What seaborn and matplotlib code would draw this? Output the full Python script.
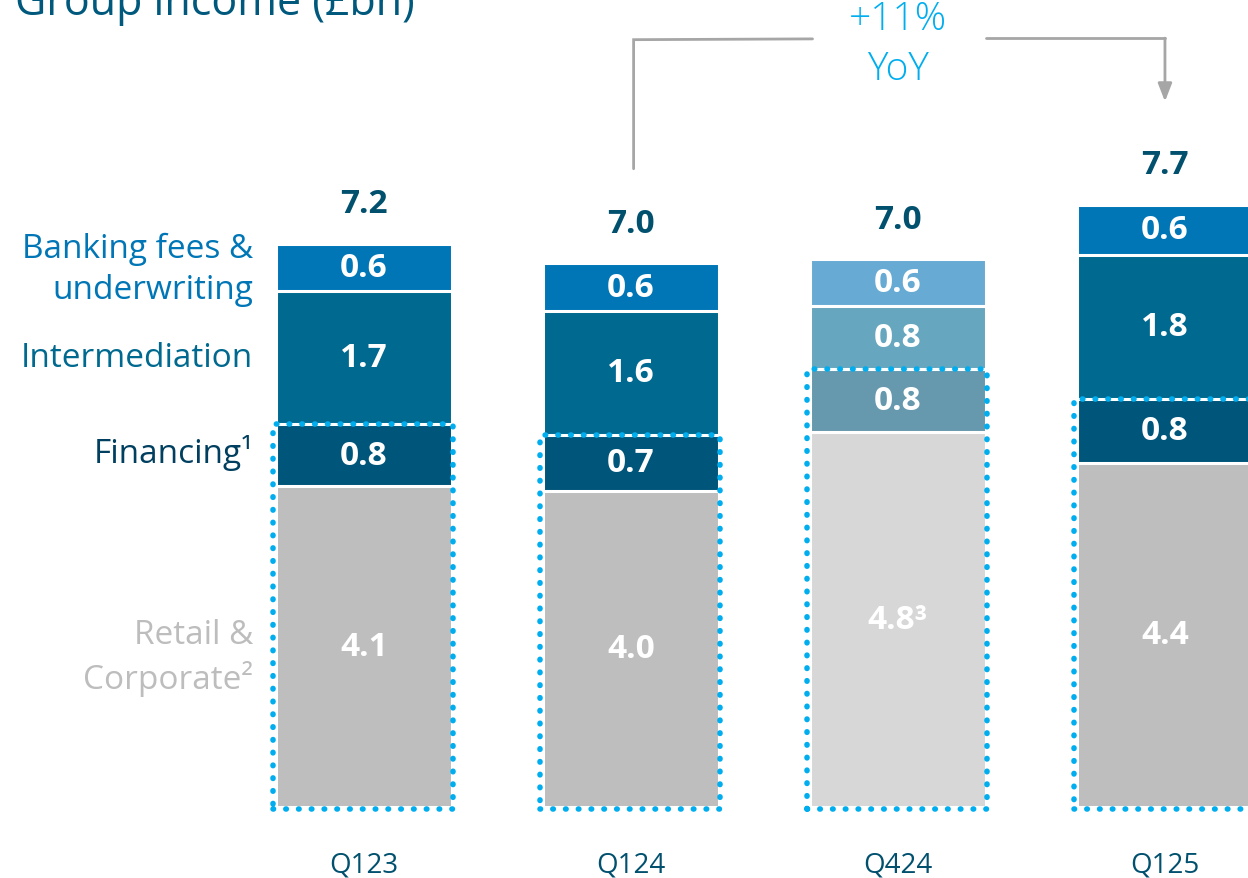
import matplotlib
matplotlib.use("Agg")
import matplotlib.pyplot as plt
import numpy as np
import pandas as pd
import seaborn as sns
from matplotlib.patches import Rectangle

# data (GBP bn)
quarters = ["Q123", "Q124", "Q424", "Q125"]
segments = ["Retail & Corporate", "Financing", "Intermediation", "Banking fees & underwriting"]
retail = [4.1, 4.04, 4.8, 4.4]
financing = [0.8, 0.72, 0.8, 0.82]
intermediation = [1.7, 1.58, 0.8, 1.84]
banking = [0.6, 0.61, 0.6, 0.64]
retail_lbl = ["4.1", "4.0", "4.8³", "4.4"]
financing_lbl = ["0.8", "0.7", "0.8", "0.8"]
intermediation_lbl = ["1.7", "1.6", "0.8", "1.8"]
banking_lbl = ["0.6", "0.6", "0.6", "0.6"]
total_lbl = ["7.2", "7.0", "7.0", "7.7"]

# colours, Q424 is shown faded
colors = {
    "Retail & Corporate": ["#bebebe", "#bebebe", "#d7d7d7", "#bebebe"],
    "Financing": ["#00557a", "#00557a", "#6699ad", "#00557a"],
    "Intermediation": ["#00698f", "#00698f", "#67a6bf", "#00698f"],
    "Banking fees & underwriting": ["#0076b6", "#0076b6", "#67abd4", "#0076b6"],
}
label_colors = {
    "Retail & Corporate": "#bdbdbd",
    "Financing": "#003f5f",
    "Intermediation": "#00698f",
    "Banking fees & underwriting": "#0076b6",
}
dark = "#00506e"
cyan = "#00aeef"

sns.set_theme(style="white")
plt.rcParams["font.family"] = ["Open Sans", "DejaVu Sans"]

df = pd.DataFrame({"quarter": quarters, "Retail & Corporate": retail,
                   "Financing": financing, "Intermediation": intermediation,
                   "Banking fees & underwriting": banking})
cum = df[segments].cumsum(axis=1)
bottoms = cum.shift(1, axis=1).fillna(0)

fig = plt.figure(figsize=(12.48, 8.79), dpi=100)
ax = fig.add_axes([0, 0, 1, 1])
W = 0.66

# stacked bars: draw cumulative heights from the top layer down
for seg in reversed(segments):
    sns.barplot(x=df["quarter"], y=cum[seg], hue=df["quarter"], palette=colors[seg],
                legend=False, width=W, edgecolor="white", linewidth=2.2, ax=ax,
                saturation=1)

lbls = dict(zip(segments, [retail_lbl, financing_lbl, intermediation_lbl, banking_lbl]))
for i, q in enumerate(quarters):
    for seg in segments:
        mid = bottoms.loc[i, seg] + df.loc[i, seg] / 2
        ax.text(i, mid, lbls[seg][i], ha="center", va="center", color="white",
                fontsize=24, fontweight="bold")
    top = cum.loc[i, segments[-1]]
    ax.text(i, top + 0.51, total_lbl[i], ha="center", va="center", color=dark,
            fontsize=24, fontweight="bold")
    ax.text(i, -0.74, q, ha="center", va="center", color=dark, fontsize=20)
    # dotted box around financing + retail
    box_top = cum.loc[i, "Financing"]
    ax.add_patch(Rectangle((i - W / 2 - 0.012, -0.02), W + 0.015, box_top + 0.02, fill=False,
                           edgecolor=cyan, linewidth=4, linestyle=(0, (0.1, 2.2)),
                           capstyle="round", joinstyle="round", zorder=5))

# left-hand segment labels
left_x = -0.415
ax.text(left_x, 6.88, "Banking fees &\nunderwriting", ha="right", va="center",
        color=label_colors["Banking fees & underwriting"], fontsize=24, linespacing=1.3)
ax.text(left_x, 5.75, "Intermediation", ha="right", va="center",
        color=label_colors["Intermediation"], fontsize=24)
ax.text(left_x, 4.54, "Financing¹", ha="right", va="center",
        color=label_colors["Financing"], fontsize=24)
ax.text(left_x, 1.92, "Retail &\nCorporate²", ha="right", va="center",
        color=label_colors["Retail & Corporate"], fontsize=24, linespacing=1.3)

# YoY connector
grey = "#a6a6a6"
ax.plot([1.01, 1.01, 1.68], [8.16, 9.81, 9.82], color=grey, linewidth=2, solid_joinstyle="miter")
ax.annotate("", xy=(3.0, 9.02), xytext=(3.0, 9.83),
            arrowprops=dict(arrowstyle="-|>,head_width=0.35,head_length=0.9", color=grey,
                            linewidth=2, shrinkA=0, shrinkB=0))
ax.plot([2.33, 3.0], [9.83, 9.83], color=grey, linewidth=2)
ax.text(2.0, 10.08, "+11%", ha="center", va="center", color=cyan, fontsize=28, fontweight="light")
ax.text(2.0, 9.44, "YoY", ha="center", va="center", color=cyan, fontsize=28, fontweight="light")

fig.text(0.012, 1 - 15 / 879, "Group income (£bn)", ha="left", va="baseline",
         color="#00597c", fontsize=31)

ax.set_xlim(-1.363, 3.311)
ax.set_ylim(-0.908, 10.33)
ax.axis("off")

fig.savefig("out.png", dpi=100)
